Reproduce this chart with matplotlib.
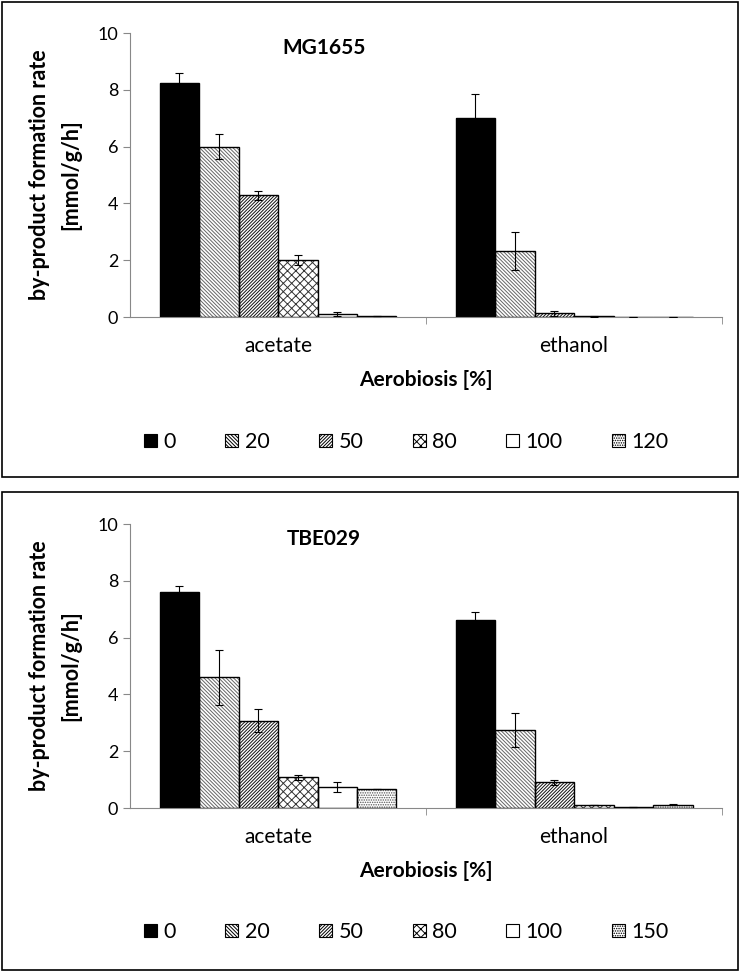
import numpy as np
import matplotlib
matplotlib.use('Agg')
import matplotlib.pyplot as plt
from matplotlib.patches import Rectangle, Patch

plt.rcParams['font.family'] = ['Lato', 'DejaVu Sans']
plt.rcParams['hatch.linewidth'] = 0.7

# Datos
categorias = ['acetate', 'ethanol']
niveles_mg = ['0', '20', '50', '80', '100', '120']
niveles_tbe = ['0', '20', '50', '80', '100', '150']

mg_valores = [
    [8.25, 7.00],
    [6.00, 2.33],
    [4.28, 0.13],
    [2.00, 0.03],
    [0.10, 0.01],
    [0.05, 0.01],
]
mg_errores = [
    [0.33, 0.85],
    [0.43, 0.68],
    [0.17, 0.09],
    [0.18, 0.02],
    [0.06, 0.00],
    [0.00, 0.00],
]

tbe_valores = [
    [7.60, 6.63],
    [4.60, 2.75],
    [3.08, 0.90],
    [1.08, 0.10],
    [0.74, 0.04],
    [0.67, 0.12],
]
tbe_errores = [
    [0.22, 0.27],
    [0.98, 0.60],
    [0.40, 0.10],
    [0.10, 0.01],
    [0.18, 0.01],
    [0.00, 0.01],
]

# estilo de cada serie: (relleno, hatch, color del hatch)
estilos = [
    ('black', None, 'black'),
    ('white', '\\' * 9, '#666666'),
    ('white', '/' * 10, '#111111'),
    ('white', 'xxxx', '#333333'),
    ('white', None, 'black'),
    ('white', '.......', '#555555'),
]


def dibujar_panel(fig, pos, titulo, valores, errores, niveles):
    ax = fig.add_axes(pos)
    x = np.arange(len(categorias))
    n = len(niveles)
    ancho = 0.8 / n
    for i in range(n):
        xs = x - 0.4 + ancho * (i + 0.5)
        fill, hatch, hcol = estilos[i]
        ax.bar(xs, valores[i], ancho, color=fill, hatch=hatch,
               edgecolor=hcol, linewidth=0, zorder=2)
        ax.bar(xs, valores[i], ancho, fill=False, edgecolor='black',
               linewidth=1.0, zorder=3)
        ax.errorbar(xs, valores[i], yerr=errores[i], fmt='none',
                    ecolor='black', elinewidth=0.8, capsize=3,
                    capthick=0.8, zorder=4)
    ax.set_xlim(-0.5, 1.5)
    ax.set_ylim(0, 10)
    ax.set_yticks([0, 2, 4, 6, 8, 10])
    ax.set_xticks(x)
    ax.set_xticklabels(categorias, fontsize=15)
    ax.set_xticks([0.5, 1.5], minor=True)
    ax.tick_params(axis='x', which='major', length=0, pad=14)
    ax.tick_params(axis='x', which='minor', length=5, color='#888888',
                   direction='out')
    ax.tick_params(axis='y', labelsize=13, length=5, color='#888888')
    for s in ['top', 'right']:
        ax.spines[s].set_visible(False)
    for s in ['left', 'bottom']:
        ax.spines[s].set_color('#888888')
    ax.set_ylabel('by-product formation rate\n[mmol/g/h]', fontsize=15.5,
                  fontweight='bold', labelpad=12, linespacing=1.55)
    ax.set_xlabel('Aerobiosis [%]', fontsize=15, fontweight='bold',
                  labelpad=10)
    ax.text(0.328, 0.947, titulo, transform=ax.transAxes, ha='center',
            va='center', fontsize=15, fontweight='bold')
    return ax


def leyenda(fig, y, niveles):
    handles = []
    for i, nv in enumerate(niveles):
        fill, hatch, hcol = estilos[i]
        handles.append(Patch(facecolor=fill, hatch=hatch, edgecolor='black',
                             linewidth=0.8, label=nv))
    fig.legend(handles=handles, loc='center left', bbox_to_anchor=(0.168, y),
               ncol=6, frameon=False, fontsize=15.5, handlelength=0.6,
               handleheight=0.6, handletextpad=0.3, columnspacing=2.3)


fig = plt.figure(figsize=(7.42, 9.74), dpi=100)

dibujar_panel(fig, [0.1752, 0.6745, 0.798, 0.2916], 'MG1655',
              mg_valores, mg_errores, niveles_mg)
dibujar_panel(fig, [0.1752, 0.1704, 0.798, 0.2916], 'TBE029',
              tbe_valores, tbe_errores, niveles_tbe)

leyenda(fig, 1 - 442 / 974, niveles_mg)
leyenda(fig, 1 - 932 / 974, niveles_tbe)

# marcos de cada panel
W, H = 742, 974
for (x0, y0, x1, y1) in [(2, 2, 738, 477), (2, 492, 738, 970)]:
    fig.add_artist(Rectangle((x0 / W, 1 - y1 / H), (x1 - x0) / W,
                             (y1 - y0) / H, transform=fig.transFigure,
                             fill=False, edgecolor='black', linewidth=1.2))

plt.savefig('out.png', dpi=100)
